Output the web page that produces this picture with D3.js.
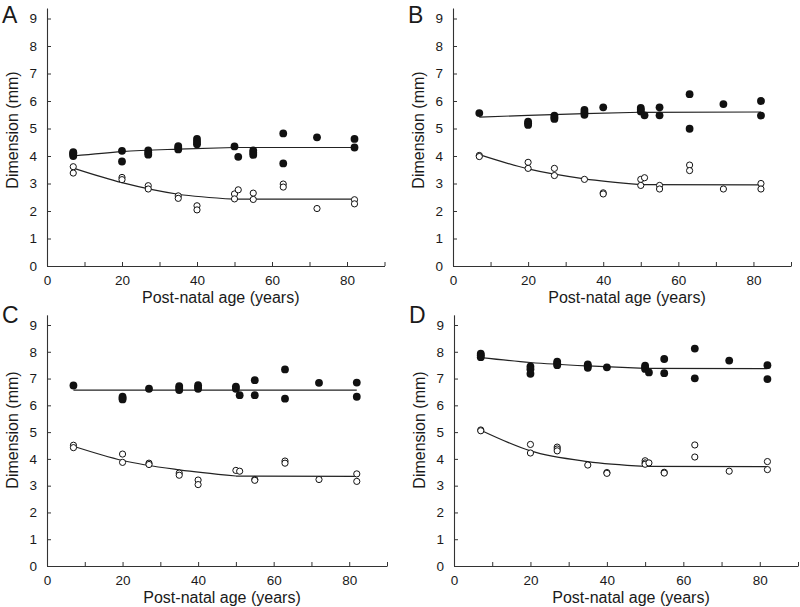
<!DOCTYPE html>
<html>
<head>
<meta charset="utf-8">
<script src="https://cdn.jsdelivr.net/npm/d3@7"></script>
<style>
  body { margin: 0; background: #fff; }
  svg { display: block; font-family: "Liberation Sans", Arial, Helvetica, sans-serif; }
</style>
</head>
<body>
<svg id="chart" width="800" height="607"></svg>
<script>
// tick values
const xTicks = [0, 10, 20, 30, 40, 50, 60, 70, 80, 90]
const xLabels = [0, 20, 40, 60, 80]
const yTicks = [0, 1, 2, 3, 4, 5, 6, 7, 8, 9]

// [age, dimension]
const aFilled = [[7,4.0],[7,4.05],[7,4.1],[7,4.14],[20,4.19],[20,3.8],[27,4.2],[27,4.12],[27,4.05],[35,4.36],[35,4.3],[35,4.24],[40,4.62],[40,4.52],[40,4.43],[50,4.35],[51,3.97],[55,4.2],[55,4.12],[55,4.04],[63,4.82],[63,3.73],[72,4.68],[82,4.62],[82,4.31]]
const aOpen = [[7,3.61],[7,3.38],[20,3.22],[20,3.14],[27,2.92],[27,2.8],[35,2.55],[35,2.46],[40,2.19],[40,2.04],[50,2.62],[50,2.44],[51,2.77],[55,2.65],[55,2.42],[63,2.98],[63,2.87],[72,2.09],[82,2.41],[82,2.26]]

const bFilled = [[7,5.56],[20,5.25],[20,5.19],[20,5.13],[27,5.47],[27,5.4],[27,5.35],[35,5.68],[35,5.59],[35,5.5],[40,5.77],[50,5.75],[50,5.68],[50,5.62],[51,5.48],[55,5.77],[55,5.48],[63,6.25],[63,4.99],[72,5.89],[82,6.0],[82,5.47]]
const bOpen = [[7,4.02],[7,3.98],[20,3.77],[20,3.55],[27,3.55],[27,3.29],[35,3.15],[40,2.66],[40,2.62],[50,3.15],[50,2.93],[51,3.21],[55,2.93],[55,2.8],[63,3.67],[63,3.47],[72,2.8],[82,3.0],[82,2.8]]

const cFilled = [[7,6.74],[20,6.32],[20,6.27],[20,6.22],[27,6.62],[35,6.72],[35,6.65],[35,6.57],[40,6.75],[40,6.68],[40,6.62],[50,6.7],[50,6.62],[51,6.38],[55,6.94],[55,6.38],[63,7.34],[63,6.25],[72,6.84],[82,6.85],[82,6.32]]
const cOpen = [[7,4.51],[7,4.42],[20,4.18],[20,3.87],[27,3.84],[27,3.79],[35,3.47],[35,3.39],[40,3.21],[40,3.04],[50,3.57],[51,3.54],[55,3.23],[55,3.2],[63,3.92],[63,3.84],[72,3.23],[82,3.44],[82,3.16]]

const dFilled = [[7,7.93],[7,7.87],[7,7.8],[20,7.45],[20,7.35],[20,7.18],[27,7.63],[27,7.57],[27,7.5],[35,7.53],[35,7.46],[35,7.4],[40,7.42],[50,7.48],[50,7.42],[50,7.36],[51,7.23],[55,7.73],[55,7.2],[63,8.12],[63,7.01],[72,7.67],[82,7.5],[82,6.98]]
const dOpen = [[7,5.08],[7,5.05],[20,4.54],[20,4.22],[27,4.44],[27,4.37],[27,4.3],[35,3.77],[40,3.49],[40,3.46],[50,3.93],[50,3.85],[50,3.8],[51,3.85],[55,3.5],[55,3.47],[63,4.52],[63,4.07],[72,3.54],[82,3.9],[82,3.6]]

// fitted curves, read at these ages
const fitAges = [7, 20, 35, 50, 82]
const aFitFilled = [4.0, 4.16, 4.25, 4.31, 4.31]
const aFitOpen = [3.56, 3.03, 2.61, 2.43, 2.43]
const bFitFilled = [5.41, 5.48, 5.54, 5.59, 5.6]
const bFitOpen = [4.05, 3.53, 3.17, 2.96, 2.95]
const cFitFilled = [6.57, 6.57, 6.57, 6.57, 6.57]
const cFitOpen = [4.47, 3.94, 3.59, 3.36, 3.35]
const dFitFilled = [7.78, 7.6, 7.47, 7.38, 7.37]
const dFitOpen = [5.07, 4.3, 3.9, 3.72, 3.71]

const panelLetters = ['A', 'B', 'C', 'D']
const xTitle = 'Post-natal age (years)'
const yTitle = 'Dimension (mm)'

const panels = [
  { filled: aFilled, open: aOpen, fitF: aFitFilled, fitO: aFitOpen, left: 47, right: 384.5, bottom: 266, top9: 18.5 },
  { filled: bFilled, open: bOpen, fitF: bFitFilled, fitO: bFitOpen, left: 453, right: 791, bottom: 266, top9: 18.5 },
  { filled: cFilled, open: cOpen, fitF: cFitFilled, fitO: cFitOpen, left: 47, right: 387, bottom: 566, top9: 325 },
  { filled: dFilled, open: dOpen, fitF: dFitFilled, fitO: dFitOpen, left: 454, right: 798, bottom: 566, top9: 325 }
]

const svg = d3.select('#chart')
const ink = '#1a1a1a'

panels.forEach((p, i) => {
  const g = svg.append('g')
  const unit = (p.bottom - p.top9) / 9
  const yMax = 9.38
  const x = d3.scaleLinear().domain([0, 90]).range([p.left, p.right])
  const y = d3.scaleLinear().domain([0, yMax]).range([p.bottom, p.bottom - yMax * unit])

  const yAxis = g.append('g')
    .attr('transform', `translate(${p.left},0)`)
    .call(d3.axisLeft(y).tickValues(yTicks).tickSizeInner(-4).tickSizeOuter(0).tickPadding(10))
  const xAxis = g.append('g')
    .attr('transform', `translate(0,${p.bottom})`)
    .call(d3.axisBottom(x).tickValues(xTicks).tickSizeInner(-4).tickSizeOuter(0).tickPadding(9)
      .tickFormat(d => xLabels.includes(d) ? d : ''))

  ;[yAxis, xAxis].forEach(ax => {
    ax.attr('font-family', null).attr('font-size', 13.5)
    ax.select('.domain').attr('stroke', '#333').attr('stroke-width', 1.1)
    ax.selectAll('.tick line').attr('stroke', '#333')
    ax.selectAll('.tick text').attr('fill', ink)
  })

  // fitted lines: smooth part up to age 50, flat after
  const line = d3.line().x(d => x(d[0])).y(d => y(d[1]))
  ;[p.fitF, p.fitO].forEach(fit => {
    const pts = fitAges.map((a, k) => [a, fit[k]])
    g.append('path')
      .attr('d', line.curve(d3.curveMonotoneX)(pts.slice(0, 4)))
      .attr('fill', 'none').attr('stroke', '#222').attr('stroke-width', 1.2)
    g.append('path')
      .attr('d', line.curve(d3.curveLinear)(pts.slice(3)))
      .attr('fill', 'none').attr('stroke', '#222').attr('stroke-width', 1.2)
  })

  g.selectAll('.filled')
    .data(p.filled)
    .enter()
    .append('circle')
    .attr('class', 'filled')
    .attr('cx', d => x(d[0]))
    .attr('cy', d => y(d[1]))
    .attr('r', 3.9)
    .attr('fill', '#111')

  g.selectAll('.open')
    .data(p.open)
    .enter()
    .append('circle')
    .attr('class', 'open')
    .attr('cx', d => x(d[0]))
    .attr('cy', d => y(d[1]))
    .attr('r', 3.1)
    .attr('fill', '#fff')
    .attr('stroke', '#111')
    .attr('stroke-width', 1)

  g.append('text')
    .attr('x', (p.left + p.right) / 2 + 5)
    .attr('y', p.bottom + 37)
    .attr('text-anchor', 'middle')
    .attr('font-size', 16)
    .attr('fill', ink)
    .text(xTitle)

  g.append('text')
    .attr('transform', `translate(${p.left - 29.5},${p.bottom - 136}) rotate(-90)`)
    .attr('text-anchor', 'middle')
    .attr('font-size', 16)
    .attr('fill', ink)
    .text(yTitle)

  g.append('text')
    .attr('x', p.left - 45)
    .attr('y', p.bottom - 243)
    .attr('font-size', 23)
    .attr('fill', ink)
    .text(panelLetters[i])
})
</script>
</body>
</html>
